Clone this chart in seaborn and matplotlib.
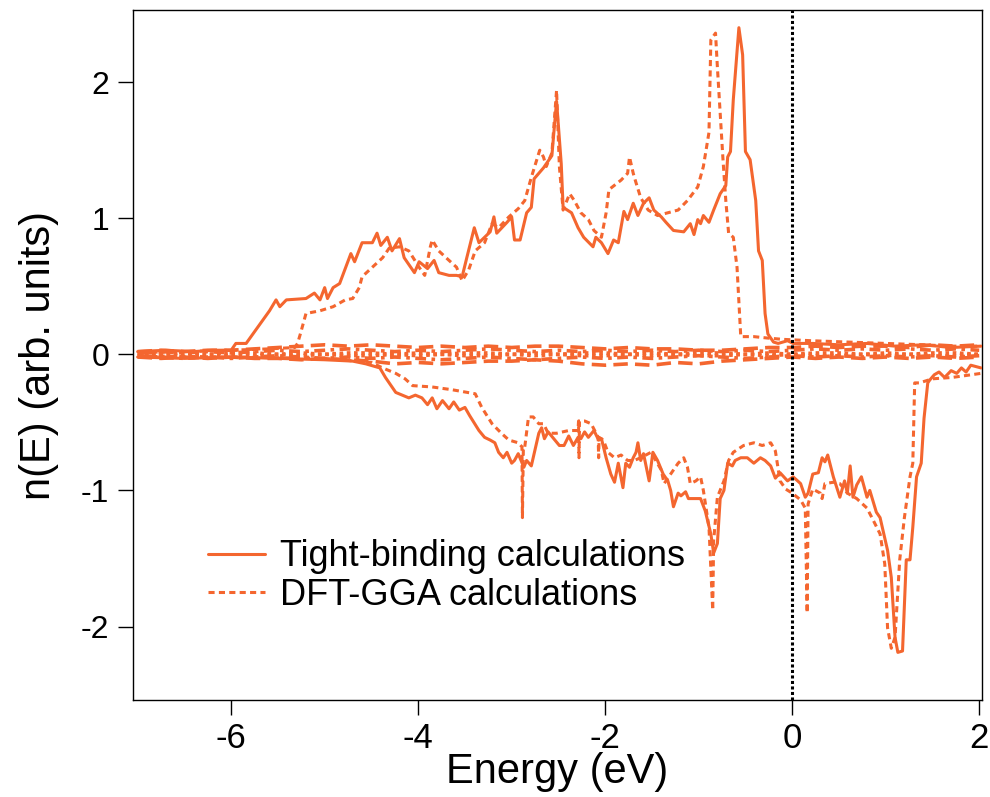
import numpy as np
import pandas as pd
import matplotlib
matplotlib.use("Agg")
import matplotlib.pyplot as plt
import seaborn as sns

# ---------------- data ----------------
E_tb_up = [-7.0,-6.7,-6.4,-6.2,-6.0,-5.95,-5.84,-5.59,-5.52,-5.48,-5.41,-5.20,-5.11,-5.05,-5.00,
           -4.97,-4.91,-4.84,-4.72,-4.68,-4.60,-4.49,-4.44,-4.40,-4.33,-4.28,-4.20,-4.15,-4.04,-3.99,
           -3.90,-3.83,-3.78,-3.67,-3.59,-3.53,-3.48,-3.40,-3.35,-3.23,-3.19,-3.16,-3.05,-3.00,-2.97,
           -2.91,-2.84,-2.79,-2.76,-2.66,-2.57,-2.52,-2.47,-2.45,-2.36,-2.29,-2.23,-2.13,-2.10,-2.04,
           -1.97,-1.91,-1.86,-1.80,-1.76,-1.70,-1.65,-1.59,-1.53,-1.48,-1.40,-1.35,-1.27,-1.16,-1.09,
           -1.05,-1.01,-0.98,-0.95,-0.89,-0.84,-0.77,-0.71,-0.69,-0.66,-0.63,-0.57,-0.53,-0.50,-0.45,
           -0.39,-0.36,-0.32,-0.29,-0.26,-0.20,-0.15,-0.05,0.01,0.09,0.22,0.5,0.8,1.1,1.4,1.7,2.02]
n_tb_up = [0.02,0.03,0.02,0.03,0.03,0.08,0.08,0.32,0.40,0.35,0.40,0.41,0.45,0.40,0.49,
           0.41,0.49,0.52,0.74,0.68,0.82,0.82,0.89,0.80,0.86,0.76,0.85,0.71,0.60,0.68,
           0.63,0.69,0.60,0.58,0.58,0.57,0.71,0.93,0.82,0.90,1.01,0.89,0.97,1.01,0.84,
           0.84,1.04,1.08,1.29,1.37,1.46,1.86,1.40,1.08,1.04,0.93,0.86,0.79,0.86,0.82,
           0.74,0.84,0.82,1.05,0.99,1.11,1.02,1.11,1.15,1.06,1.01,0.97,0.91,0.90,0.96,
           0.88,0.99,0.96,1.02,0.97,1.06,1.18,1.24,1.45,1.49,1.87,2.40,2.20,1.49,1.43,
           1.13,0.76,0.69,0.30,0.15,0.09,0.08,0.10,0.08,0.08,0.08,0.07,0.08,0.06,0.07,0.05,0.06]

E_dft_up = [-7.0,-6.5,-6.0,-5.6,-5.32,-5.29,-5.26,-5.20,-5.05,-4.91,-4.78,-4.70,-4.63,-4.60,-4.49,
            -4.38,-4.31,-4.20,-4.10,-3.99,-3.93,-3.87,-3.85,-3.78,-3.67,-3.59,-3.53,-3.46,-3.39,-3.29,
            -3.21,-3.14,-3.03,-2.93,-2.86,-2.79,-2.70,-2.66,-2.63,-2.57,-2.52,-2.49,-2.45,-2.38,-2.33,
            -2.26,-2.18,-2.12,-2.04,-1.99,-1.96,-1.83,-1.76,-1.74,-1.70,-1.67,-1.62,-1.54,-1.44,-1.33,
            -1.22,-1.12,-1.01,-0.95,-0.89,-0.87,-0.82,-0.80,-0.74,-0.71,-0.68,-0.63,-0.59,-0.55,-0.41,
            -0.27,-0.1,0.2,0.6,1.0,1.4,1.7,2.02]
n_dft_up = [0.01,0.02,0.03,0.04,0.05,0.08,0.15,0.30,0.32,0.35,0.40,0.41,0.49,0.57,0.64,
            0.71,0.78,0.79,0.76,0.64,0.58,0.79,0.84,0.76,0.69,0.64,0.54,0.62,0.76,0.82,
            0.96,0.93,1.01,1.07,1.13,1.30,1.50,1.45,1.38,1.48,1.94,1.38,1.06,1.18,1.13,
            1.04,0.99,0.91,0.86,1.04,1.21,1.28,1.33,1.45,1.33,1.26,1.15,1.06,1.02,1.04,
            1.06,1.13,1.23,1.38,1.63,2.31,2.36,2.11,1.43,1.13,0.89,0.86,0.64,0.13,0.13,
            0.12,0.11,0.10,0.09,0.08,0.07,0.06,0.06]

E_tb_dn = [-7.0,-6.5,-6.0,-5.5,-5.0,-4.7,-4.56,-4.41,-4.35,-4.24,-4.17,-4.10,-4.03,-3.96,-3.90,
           -3.85,-3.80,-3.74,-3.67,-3.62,-3.56,-3.50,-3.45,-3.35,-3.29,-3.23,-3.18,-3.14,-3.09,-3.05,
           -3.00,-2.97,-2.93,-2.87,-2.84,-2.79,-2.76,-2.71,-2.68,-2.65,-2.61,-2.55,-2.49,-2.44,-2.39,
           -2.34,-2.29,-2.26,-2.22,-2.18,-2.12,-2.07,-2.04,-1.99,-1.94,-1.90,-1.86,-1.81,-1.78,-1.74,
           -1.70,-1.67,-1.65,-1.62,-1.59,-1.53,-1.49,-1.44,-1.38,-1.33,-1.30,-1.27,-1.22,-1.19,-1.14,
           -1.11,-1.05,-0.98,-0.93,-0.87,-0.84,-0.80,-0.77,-0.73,-0.69,-0.64,-0.61,-0.55,-0.48,-0.41,
           -0.34,-0.29,-0.23,-0.18,-0.13,-0.05,0.01,0.09,0.14,0.17,0.22,0.28,0.32,0.35,0.38,
           0.44,0.51,0.56,0.59,0.62,0.65,0.69,0.74,0.80,0.83,0.90,0.94,0.99,1.02,1.06,
           1.10,1.13,1.18,1.22,1.26,1.29,1.33,1.38,1.41,1.45,1.47,1.52,1.57,1.63,1.70,
           1.76,1.81,1.86,1.91,2.02]
n_tb_dn = [-0.02,-0.03,-0.02,-0.03,-0.04,-0.05,-0.07,-0.10,-0.17,-0.28,-0.30,-0.32,-0.30,-0.32,-0.37,
           -0.32,-0.40,-0.34,-0.40,-0.35,-0.41,-0.39,-0.45,-0.56,-0.61,-0.63,-0.65,-0.72,-0.76,-0.72,
           -0.80,-0.78,-0.73,-0.83,-0.78,-0.82,-0.73,-0.58,-0.54,-0.62,-0.57,-0.62,-0.67,-0.67,-0.60,
           -0.67,-0.61,-0.62,-0.57,-0.61,-0.56,-0.63,-0.62,-0.76,-0.88,-0.94,-0.80,-0.98,-0.80,-0.83,
           -0.76,-0.72,-0.65,-0.78,-0.73,-0.93,-0.72,-0.78,-0.88,-0.93,-1.00,-1.12,-1.02,-1.04,-1.01,
           -1.06,-1.06,-1.06,-1.15,-1.32,-1.46,-1.39,-1.06,-1.00,-0.80,-0.82,-0.78,-0.76,-0.76,-0.80,
           -0.76,-0.78,-0.82,-0.91,-0.87,-0.93,-0.90,-0.95,-1.05,-1.02,-0.88,-0.87,-0.76,-0.79,-0.74,
           -0.90,-1.05,-0.93,-1.02,-0.82,-1.05,-0.96,-0.90,-1.05,-1.00,-1.16,-1.20,-1.35,-1.44,-1.64,
           -2.08,-2.19,-2.18,-1.51,-1.51,-1.27,-0.90,-0.80,-0.47,-0.21,-0.19,-0.15,-0.13,-0.17,-0.12,
           -0.14,-0.10,-0.13,-0.08,-0.10]

E_dft_dn = [-7.0,-6.0,-5.0,-4.5,-4.38,-4.24,-4.14,-4.06,-3.85,-3.64,-3.39,-3.32,-3.21,-3.11,-3.03,
            -2.93,-2.89,-2.885,-2.875,-2.86,-2.82,-2.77,-2.71,-2.66,-2.61,-2.52,-2.39,-2.29,-2.285,-2.28,
            -2.275,-2.22,-2.15,-2.075,-2.07,-2.065,-2.02,-1.97,-1.90,-1.83,-1.76,-1.69,-1.62,-1.51,-1.40,
            -1.37,-1.30,-1.22,-1.16,-1.12,-1.09,-1.03,-0.98,-0.95,-0.89,-0.85,-0.84,-0.80,-0.73,-0.68,
            -0.63,-0.52,-0.41,-0.32,-0.23,-0.18,-0.13,-0.07,0.0,0.09,0.14,0.16,0.17,0.22,0.30,
            0.32,0.35,0.44,0.51,0.59,0.69,0.80,0.86,0.94,0.99,1.02,1.06,1.10,1.15,1.20,
            1.26,1.29,1.31,1.36,1.50,1.71,2.02]
n_dft_dn = [-0.01,-0.02,-0.03,-0.06,-0.10,-0.14,-0.18,-0.23,-0.24,-0.26,-0.29,-0.39,-0.51,-0.58,-0.63,
            -0.65,-0.68,-1.20,-0.68,-0.68,-0.46,-0.46,-0.51,-0.51,-0.58,-0.58,-0.56,-0.56,-0.49,-0.76,
            -0.49,-0.49,-0.51,-0.61,-0.76,-0.61,-0.63,-0.72,-0.76,-0.74,-0.78,-0.78,-0.76,-0.72,-0.85,
            -0.95,-0.88,-0.80,-0.76,-0.83,-0.95,-0.93,-0.90,-1.00,-1.27,-1.88,-1.37,-1.05,-0.93,-0.78,
            -0.72,-0.67,-0.65,-0.67,-0.65,-0.71,-0.93,-0.99,-1.02,-1.07,-1.13,-1.90,-1.10,-0.99,-1.02,
            -1.06,-0.95,-0.94,-0.95,-1.02,-1.06,-1.13,-1.21,-1.32,-1.54,-2.01,-2.16,-2.08,-1.51,-1.20,
            -0.90,-0.80,-0.21,-0.21,-0.18,-0.17,-0.14]

# projected (partial) DOS curves that crowd around zero
E_pd = [-7.0,-6.75,-6.5,-6.25,-6.0,-5.75,-5.5,-5.25,-5.0,-4.75,-4.5,-4.25,-4.0,-3.75,-3.5,-3.25,-3.0,
        -2.75,-2.5,-2.25,-2.0,-1.75,-1.5,-1.25,-1.0,-0.75,-0.5,-0.25,0.0,0.25,0.5,0.75,1.0,1.25,1.5,1.75,2.0]
pd1_up = [0.02,0.03,0.02,0.03,0.03,0.04,0.05,0.06,0.07,0.06,0.07,0.06,0.05,0.06,0.05,0.06,0.05,
          0.06,0.06,0.05,0.04,0.05,0.04,0.04,0.03,0.03,0.04,0.05,0.05,0.06,0.05,0.06,0.06,0.05,0.07,0.06,0.07]
pd1_dn = [-0.02,-0.03,-0.02,-0.03,-0.02,-0.03,-0.03,-0.04,-0.03,-0.04,-0.05,-0.07,-0.06,-0.07,-0.06,-0.05,-0.05,
          -0.04,-0.05,-0.07,-0.08,-0.07,-0.08,-0.06,-0.07,-0.05,-0.04,-0.03,-0.02,-0.03,-0.02,-0.03,-0.02,-0.03,-0.02,-0.03,-0.02]
pd2_up = [0.01,0.02,0.01,0.02,0.01,0.02,0.03,0.02,0.03,0.04,0.03,0.02,0.03,0.02,0.03,0.04,0.03,
          0.02,0.03,0.02,0.03,0.02,0.03,0.02,0.03,0.02,0.03,0.02,0.03,0.04,0.03,0.04,0.03,0.04,0.03,0.04,0.03]
pd2_dn = [-0.01,-0.02,-0.03,-0.02,-0.03,-0.02,-0.01,-0.02,-0.03,-0.02,-0.03,-0.02,-0.03,-0.04,-0.03,-0.02,-0.03,
          -0.04,-0.03,-0.02,-0.03,-0.02,-0.03,-0.02,-0.01,-0.02,-0.03,-0.02,-0.01,-0.02,-0.01,-0.02,-0.01,-0.02,-0.01,-0.02,-0.01]
pd3_up = [0.01,0.0,0.01,0.0,0.01,0.01,0.0,0.01,0.0,0.01,0.01,0.0,0.01,0.0,0.01,0.01,0.0,
          0.01,0.0,0.01,0.01,0.0,0.01,0.0,0.01,0.01,0.0,0.01,0.0,0.01,0.01,0.0,0.01,0.0,0.01,0.01,0.0]
pd3_dn = [-0.01,0.0,-0.01,0.0,-0.01,-0.01,0.0,-0.01,0.0,-0.01,-0.01,0.0,-0.01,0.0,-0.01,-0.01,0.0,
          -0.01,0.0,-0.01,-0.01,0.0,-0.01,0.0,-0.01,-0.01,0.0,-0.01,0.0,-0.01,-0.01,0.0,-0.01,0.0,-0.01,-0.01,0.0]

labels = ["Tight-binding calculations", "DFT-GGA calculations"]
x_ticks = [-6, -4, -2, 0, 2]
y_ticks = [-2, -1, 0, 1, 2]

# ---------------- styling ----------------
sns.set_theme(style="ticks")
plt.rcParams["font.family"] = ["Liberation Sans", "DejaVu Sans"]
plt.rcParams["text.color"] = "black"
plt.rcParams["axes.labelcolor"] = "black"
COLOR = "#F4662F"
DFT_LS = (0, (2.0, 1.4))

fig = plt.figure(figsize=(9.9, 7.97), dpi=100)
ax = fig.add_axes([133 / 990, 1 - 700 / 797, (982 - 133) / 990, 690 / 797])

def draw(x, y, ls, lw, label=None, zorder=2):
    df = pd.DataFrame({"E": x, "n": y})
    sns.lineplot(data=df, x="E", y="n", estimator=None, sort=False, ax=ax,
                 color=COLOR, lw=lw, linestyle=ls, label=label, zorder=zorder)

# near-zero partial DOS band
draw(E_pd, pd1_up, (0, (4, 2)), 2.6)
draw(E_pd, pd1_dn, (0, (4, 2)), 2.6)
draw(E_pd, pd2_up, (0, (3, 1.5, 1, 1.5)), 2.6)
draw(E_pd, pd2_dn, (0, (3, 1.5, 1, 1.5)), 2.6)
draw(E_pd, pd3_up, (0, (1, 1)), 2.6)
draw(E_pd, pd3_dn, (0, (1, 1)), 2.6)

# main total DOS curves
draw(E_tb_up, n_tb_up, "-", 2.2, label=labels[0], zorder=3)
draw(E_dft_up, n_dft_up, DFT_LS, 2.2, label=labels[1], zorder=3)
draw(E_tb_dn, n_tb_dn, "-", 2.2, zorder=3)
draw(E_dft_dn, n_dft_dn, DFT_LS, 2.2, zorder=3)

ax.axvline(0, color="black", lw=2.2, linestyle=(0, (1, 0.8)), zorder=4)

ax.set_xlim(-7.05, 2.03)
ax.set_ylim(-2.54, 2.53)
ax.set_xticks(x_ticks)
ax.set_yticks(y_ticks)
ax.set_xticklabels([str(t) for t in x_ticks])
ax.set_yticklabels([str(t) for t in y_ticks])
ax.tick_params(axis="both", direction="out", length=11, width=1, color="black",
               labelcolor="black", top=False, right=False, pad=6)
ax.tick_params(axis="x", labelsize=25, pad=5)
ax.tick_params(axis="y", labelsize=23)
for s in ax.spines.values():
    s.set_visible(True)
    s.set_color("black")
    s.set_linewidth(1.0)

ax.set_xlabel("Energy (eV)", fontsize=30, color="black", labelpad=-2)
ax.set_ylabel("n(E) (arb. units)", fontsize=30, color="black", labelpad=16)

leg = ax.legend(loc="upper left", bbox_to_anchor=(0.088, 0.233), frameon=False, fontsize=26,
                handlelength=1.6, handletextpad=0.4, labelspacing=0.1, borderpad=0, borderaxespad=0)
for t in leg.get_texts():
    t.set_color("black")

fig.savefig("out.png", dpi=100)
